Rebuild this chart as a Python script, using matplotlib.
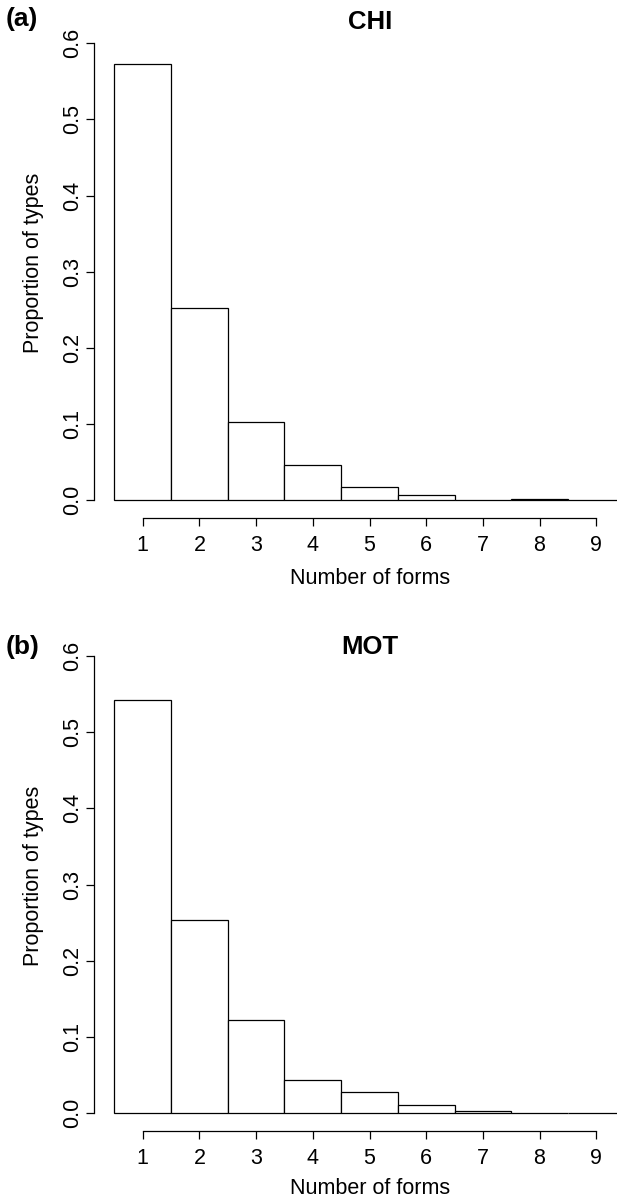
import numpy as np
import matplotlib
matplotlib.use('Agg')
import matplotlib.pyplot as plt

plt.rcParams['font.family'] = ['Liberation Sans', 'DejaVu Sans']

# data
forms = [1, 2, 3, 4, 5, 6, 7, 8, 9]
chi = [0.573, 0.252, 0.1025, 0.046, 0.017, 0.0066, 0.0004, 0.001, 0.0]
mot = [0.542, 0.2535, 0.1225, 0.043, 0.027, 0.011, 0.0023, 0.0003, 0.0002]
yticks = [0.0, 0.1, 0.2, 0.3, 0.4, 0.5, 0.6]
panels = ['(a)', '(b)']
titles = ['CHI', 'MOT']

W, H = 617, 1198
fig = plt.figure(figsize=(W / 100, H / 100), dpi=100)

def px(x, y):
    return x / W, 1 - y / H

# axes boxes in pixels: (top, bottom)
boxes = [(25.1, 518.3), (637.7, 1131.3)]
left, right = 94, 645
# text baselines in pixels for each panel: letter, title, xlabel
letter_y = [26, 654]
title_y = [29, 654]
xlab_y = [584, 1194]

for i, vals in enumerate([chi, mot]):
    top, bot = boxes[i]
    ax = fig.add_axes([left / W, 1 - bot / H, (right - left) / W, (bot - top) / H])
    ax.bar(forms, vals, width=1.0, facecolor='white', edgecolor='black', linewidth=0.9)
    ax.set_xlim(0.14, 9.86)
    ax.set_ylim(-0.024, 0.624)
    ax.set_xticks(forms)
    ax.set_yticks(yticks)
    ax.set_yticklabels(['%.1f' % v for v in yticks])
    for s in ['top', 'right']:
        ax.spines[s].set_visible(False)
    ax.spines['left'].set_bounds(0, 0.6)
    ax.spines['bottom'].set_bounds(1, 9)
    for s in ['left', 'bottom']:
        ax.spines[s].set_linewidth(0.9)
    ax.tick_params(length=6, width=0.9, labelsize=15.5, color='black')
    ax.tick_params(axis='x', pad=6)
    ax.tick_params(axis='y', labelrotation=90, pad=1.5)
    for lab in ax.get_yticklabels():
        lab.set_va('center')
    ax.patch.set_alpha(0)

    fig.text(*px(6, letter_y[i]), panels[i], fontsize=19,
             fontweight='bold', ha='left', va='baseline')
    fig.text(*px(370, title_y[i]), titles[i], fontsize=18.5,
             fontweight='bold', ha='center', va='baseline')
    fig.text(*px(370, xlab_y[i]), 'Number of forms', fontsize=15.5,
             ha='center', va='baseline')
    fig.text(*px(34, (top + bot) / 2 - 9), 'Proportion of types', fontsize=15.5,
             rotation=90, ha='center', va='center')

fig.savefig('out.png', dpi=100)
